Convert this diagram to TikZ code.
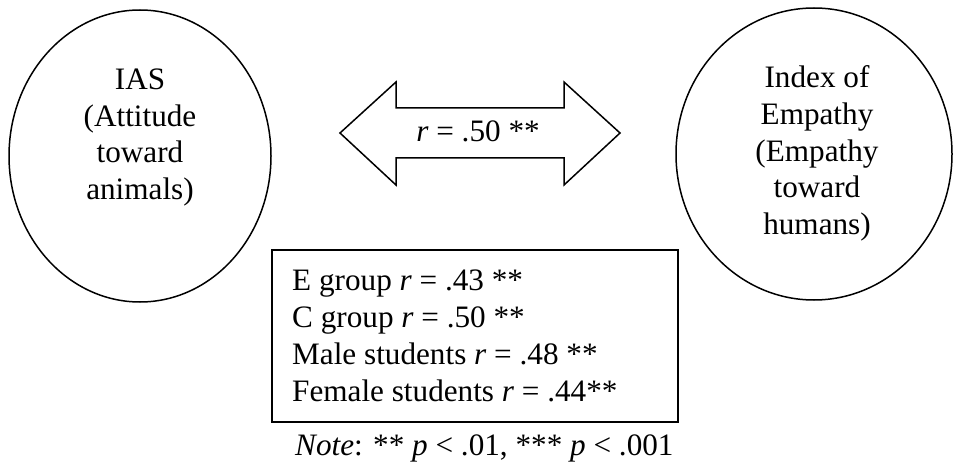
\documentclass[tikz,border=0pt]{standalone}
\usepackage{fontspec}
\setmainfont{Liberation Serif}
\usetikzlibrary{shapes.geometric}
\tikzset{
  outline/.style={draw=black, line width=1.5pt},
  oval/.style={outline, ellipse, inner sep=0pt},
  txt/.style={font=\fontsize{31.2}{37}\selectfont, inner sep=0pt},
}
\begin{document}
\begin{tikzpicture}[x=1pt, y=-1pt]
\useasboundingbox (0,0) rectangle (953,465);
% left ellipse
\node[oval, minimum width=262pt, minimum height=292pt] (ias) at (140,156) {};
\node[txt, anchor=base] (t1) at (140,90) {IAS};
\node[txt, anchor=base] (t2) at (140,127) {(Attitude};
\node[txt, anchor=base] (t3) at (140,163) {toward};
\node[txt, anchor=base] (t4) at (140,200) {animals)};
% right ellipse
\node[oval, minimum width=276pt, minimum height=292pt] (emp) at (814,154) {};
\node[txt, anchor=base] (u1) at (817,88) {Index of};
\node[txt, anchor=base] (u2) at (817,125) {Empathy};
\node[txt, anchor=base] (u3) at (817,162) {(Empathy};
\node[txt, anchor=base] (u4) at (817,198) {toward};
\node[txt, anchor=base] (u5) at (817,235) {humans)};
% double arrow
\draw[outline, line join=miter] (340,133) -- (396,82) -- (396,108) -- (564,108) -- (564,82)
  -- (620,133) -- (564,185) -- (564,158) -- (396,158) -- (396,185) -- cycle;
\node[txt, anchor=base] (rr) at (478,142) {\textit{r} = .50 **};
% box
\node[outline, minimum width=406pt, minimum height=172pt, inner sep=0pt] (box) at (475,336) {};
\node[txt, anchor=base west] (b1) at (292,290) {E group \textit{r} = .43 **};
\node[txt, anchor=base west] (b2) at (292,327) {C group \textit{r} = .50 **};
\node[txt, anchor=base west] (b3) at (292,364) {Male students \textit{r} = .48 **};
\node[txt, anchor=base west] (b4) at (292,401) {Female students \textit{r} = .44**};
% note
\node[txt, anchor=base west] (note) at (295,455) {\textit{Note}: ** \textit{p} < .01, *** \textit{p} < .001};
\end{tikzpicture}
\end{document}
